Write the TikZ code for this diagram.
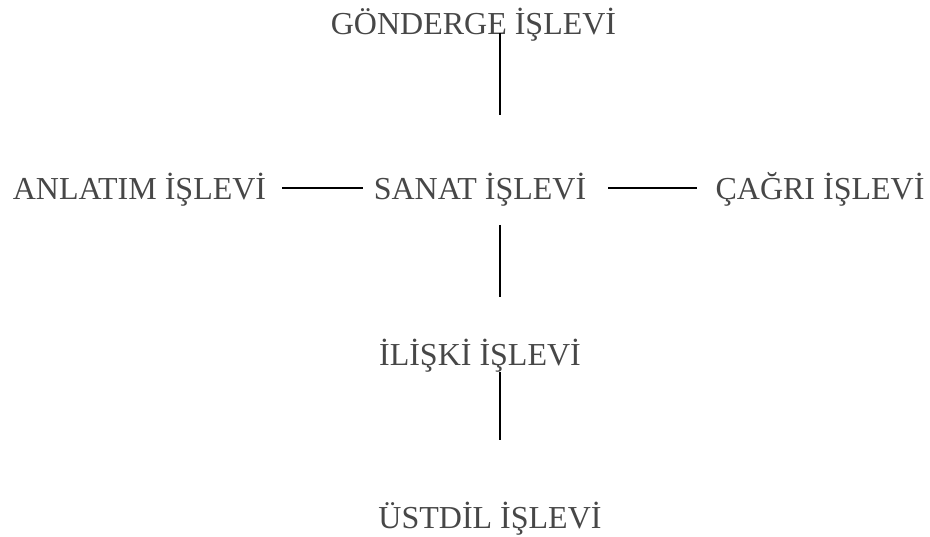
\documentclass[tikz,border=0pt]{standalone}
\usepackage{fontspec}
\setmainfont{Liberation Serif}
\begin{document}
\begin{tikzpicture}[x=1pt,y=-1pt,
  label/.style={anchor=base,inner sep=0pt,text=black!72,font=\fontsize{32}{36}\selectfont},
  link/.style={draw=black,line width=1.6pt}]
\useasboundingbox (0,0) rectangle (930,537);
% function names
\node[label] (gon) at (473.5,35) {GÖNDERGE İŞLEVİ};
\node[label] (anl) at (139.5,200) {ANLATIM İŞLEVİ};
\node[label] (san) at (480,200) {SANAT İŞLEVİ};
\node[label] (cag) at (820,200) {ÇAĞRI İŞLEVİ};
\node[label] (ili) at (480,366) {İLİŞKİ İŞLEVİ};
\node[label] (ust) at (490,529) {ÜSTDİL İŞLEVİ};
% connectors
\draw[link] ([shift={(26.5,-2)}]gon.base) -- ([shift={(20,-85)}]san.base);
\draw[link] ([shift={(142.5,-12)}]anl.base) -- ([shift={(-117,-12)}]san.base);
\draw[link] ([shift={(128,-12)}]san.base) -- ([shift={(-123,-12)}]cag.base);
\draw[link] ([shift={(20,25)}]san.base) -- ([shift={(20,-69)}]ili.base);
\draw[link] ([shift={(20,6)}]ili.base) -- ([shift={(10,-89)}]ust.base);
\end{tikzpicture}
\end{document}
